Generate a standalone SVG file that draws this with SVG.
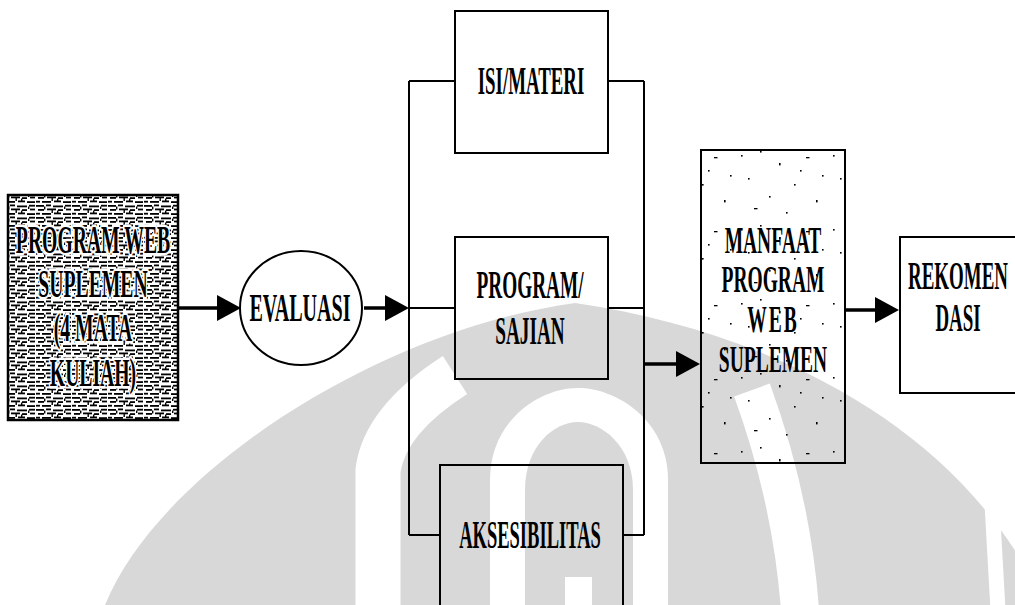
<svg xmlns="http://www.w3.org/2000/svg" width="1015" height="605" viewBox="0 0 1015 605">
  <style>
    .box { fill: none; stroke: #000; stroke-width: 2; }
    .lbl { font-family: "Liberation Serif", "Times New Roman", serif; font-weight: bold; font-size: 41px; fill: #000; text-anchor: middle; }
    .sm { font-size: 37.5px; }
    .halo { stroke: #fff; stroke-width: 5; paint-order: stroke; stroke-linejoin: round; }
    .wire { fill: none; stroke: #000; stroke-width: 2; }
    .flow { fill: none; stroke: #000; stroke-width: 3.5; }
    .wm { fill: #d8d8d8; }
    .wmw { fill: #fff; }
    .d { fill: #000; }
  </style>
  <defs>
    <marker id="head" markerUnits="userSpaceOnUse" markerWidth="26" markerHeight="28" refX="0" refY="14" orient="auto">
      <path d="M0,1 L24,14 L0,27 Z" fill="#000"/>
    </marker>
    <pattern id="noise" patternUnits="userSpaceOnUse" width="36" height="12">
      <rect width="36" height="12" fill="#fff"/>
      <rect class="d" x="0" y="1" width="8" height="1.8"/>
      <rect class="d" x="10" y="0.5" width="5" height="1.8"/>
      <rect class="d" x="17" y="1.5" width="10" height="1.8"/>
      <rect class="d" x="29" y="0.8" width="6" height="1.8"/>
      <rect class="d" x="2" y="5" width="6" height="1.8"/>
      <rect class="d" x="11" y="4.5" width="9" height="1.8"/>
      <rect class="d" x="22" y="5.2" width="5" height="1.8"/>
      <rect class="d" x="30" y="4.6" width="5" height="1.8"/>
      <rect class="d" x="0" y="8.8" width="4" height="1.8"/>
      <rect class="d" x="6" y="9" width="9" height="1.8"/>
      <rect class="d" x="18" y="8.5" width="7" height="1.8"/>
      <rect class="d" x="27" y="9.2" width="8" height="1.8"/>
      <rect class="d" x="8" y="2.5" width="1.4" height="3"/>
      <rect class="d" x="21" y="6.5" width="1.4" height="3"/>
      <rect class="d" x="28" y="2.5" width="1.4" height="2.5"/>
      <rect class="d" x="15.5" y="6" width="1.4" height="3"/>
    </pattern>
    <pattern id="speck" patternUnits="userSpaceOnUse" width="92" height="74">
      <rect class="d" x="5" y="7" width="1.6" height="1.6"/>
      <rect class="d" x="24" y="3" width="1.6" height="1.6"/>
      <rect class="d" x="43" y="15" width="1.6" height="2.4"/>
      <rect class="d" x="12" y="30" width="1.6" height="1.6"/>
      <rect class="d" x="70" y="9" width="3.5" height="1.3"/>
      <rect class="d" x="58" y="36" width="1.6" height="1.6"/>
      <rect class="d" x="33" y="48" width="1.6" height="1.6"/>
      <rect class="d" x="80" y="52" width="1.6" height="2.4"/>
      <rect class="d" x="18" y="60" width="3.5" height="1.3"/>
      <rect class="d" x="50" y="64" width="1.6" height="1.6"/>
      <rect class="d" x="86" y="27" width="1.6" height="1.6"/>
      <rect class="d" x="64" y="22" width="1.6" height="1.6"/>
    </pattern>
  </defs>

  <rect width="1015" height="605" fill="#fff"/>

  <g id="watermark">
    <path class="wm" d="M105,605 C160,470 380,330 575,303 C760,330 960,420 1045,605 Z"/>
    <path d="M378,610 L378,470 Q385,420 455,375" fill="none" stroke="#fff" stroke-width="45"/>
    <path d="M800,610 Q792,500 752,390" fill="none" stroke="#fff" stroke-width="38"/>
    <path d="M990,468 L998,610" fill="none" stroke="#fff" stroke-width="15"/>
    <path class="wmw" d="M490,605 L490,480 C490,420 540,388 578,388 C616,388 668,420 668,480 L668,605 Z"/>
    <path class="wm" d="M525,605 L525,490 C525,445 555,422 578,422 C601,422 633,445 633,490 L633,605 Z"/>
    <rect class="wmw" x="565" y="577" width="27" height="30"/>
  </g>

  <g id="connectors">
    <line class="wire" x1="409" y1="81" x2="409" y2="535"/>
    <line class="wire" x1="409" y1="81" x2="455" y2="81"/>
    <line class="wire" x1="409" y1="308" x2="455" y2="308"/>
    <line class="wire" x1="409" y1="535" x2="440" y2="535"/>
    <line class="wire" x1="644" y1="81" x2="644" y2="535"/>
    <line class="wire" x1="608" y1="81" x2="644" y2="81"/>
    <line class="wire" x1="608" y1="308" x2="644" y2="308"/>
    <line class="wire" x1="623" y1="535" x2="644" y2="535"/>
    <line class="flow" x1="179" y1="308" x2="217" y2="308" marker-end="url(#head)"/>
    <line class="flow" x1="364" y1="308" x2="385" y2="308" marker-end="url(#head)"/>
    <line class="flow" x1="644" y1="364" x2="676" y2="364" marker-end="url(#head)"/>
    <line class="flow" x1="845" y1="310" x2="875" y2="310" marker-end="url(#head)"/>
  </g>

  <g id="program-web">
    <rect x="8" y="195" width="170" height="225" fill="url(#noise)" stroke="#000" stroke-width="2.5"/>
    <text class="lbl halo" transform="translate(93,253) scale(0.48,1)"><tspan x="0" y="0">PROGRAM WEB</tspan><tspan x="0" y="44">SUPLEMEN</tspan><tspan x="0" y="88">(4 MATA</tspan><tspan x="0" y="133">KULIAH)</tspan></text>
  </g>

  <g id="evaluasi">
    <ellipse cx="301" cy="308" rx="61" ry="57" class="box" stroke-width="1.5"/>
    <text class="lbl" transform="translate(300,321) scale(0.49,1)">EVALUASI</text>
  </g>

  <g id="isi-materi">
    <rect x="455" y="11" width="153" height="142" class="box"/>
    <text class="lbl" transform="translate(531,94) scale(0.46,1)">ISI/MATERI</text>
  </g>

  <g id="program-sajian">
    <rect x="455" y="237" width="153" height="142" class="box"/>
    <text class="lbl" transform="translate(530,298) scale(0.47,1)"><tspan x="0" y="0">PROGRAM/</tspan><tspan x="0" y="46">SAJIAN</tspan></text>
  </g>

  <g id="aksesibilitas">
    <rect x="440" y="465" width="183" height="150" class="box"/>
    <text class="lbl" transform="translate(530,548) scale(0.452,1)">AKSESIBILITAS</text>
  </g>

  <g id="manfaat">
    <rect x="701" y="150" width="144" height="313" fill="url(#speck)" stroke="#000" stroke-width="2"/>
    <text class="lbl sm" transform="translate(773,253) scale(0.52,1)"><tspan x="0" y="0">MANFAAT</tspan><tspan x="0" y="39.5">PROGRAM</tspan><tspan x="0" y="79" letter-spacing="4">WEB</tspan><tspan x="0" y="119.5">SUPLEMEN</tspan></text>
  </g>

  <g id="rekomendasi">
    <rect x="900" y="237" width="130" height="156" class="box"/>
    <text class="lbl" transform="translate(958,289) scale(0.462,1)"><tspan x="0" y="0">REKOMEN</tspan><tspan x="0" y="42">DASI</tspan></text>
  </g>
</svg>
